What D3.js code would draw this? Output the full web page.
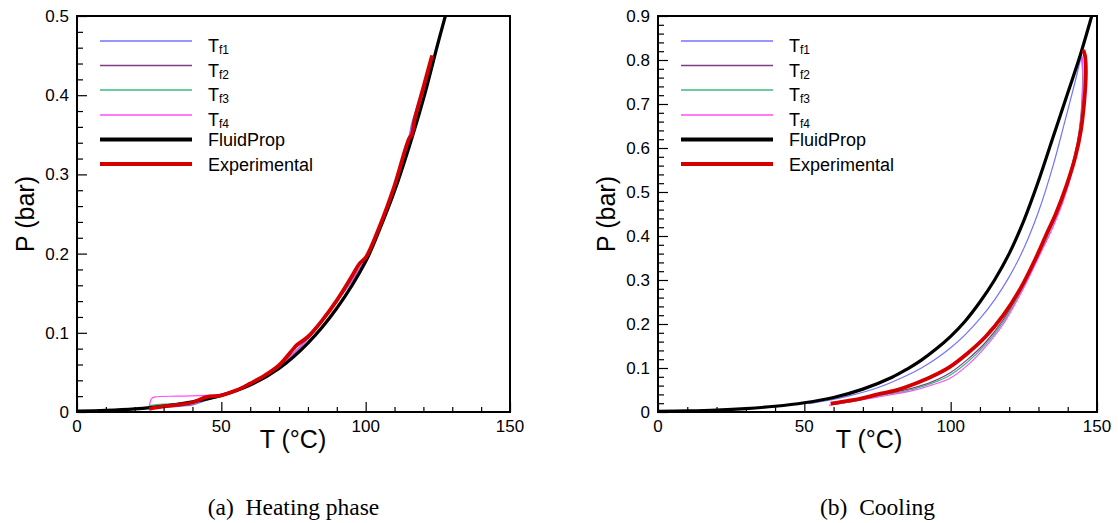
<!DOCTYPE html>
<html>
<head>
<meta charset="utf-8">
<script src="https://cdn.jsdelivr.net/npm/d3@7"></script>
<style>
  body { margin: 0; background: #fff; }
  text { font-family: "Liberation Sans", Arial, sans-serif; }
  .caption { font-family: "Liberation Serif", "DejaVu Serif", serif; white-space: pre; }
</style>
</head>
<body>
<div id="chart"></div>
<script>
// values, [T in °C, P in bar]
var heatFluidProp = [[0,0.001],[10,0.002],[20,0.004],[30,0.0075],[40,0.013],[50,0.021],[60,0.034],[70,0.055],[80,0.087],[90,0.131],[100,0.19],[105,0.232],[110,0.279],[115,0.334],[120,0.395],[125,0.465],[127.6,0.5]];
var heatExp = [[25,0.004],[30,0.007],[35,0.009],[40,0.012],[45,0.019],[50,0.021],[55,0.027],[60,0.036],[65,0.046],[70,0.059],[75,0.08],[76,0.084],[80,0.095],[85,0.116],[90,0.141],[95,0.17],[98,0.188],[100,0.195],[105,0.236],[110,0.286],[115,0.345],[116,0.35],[117,0.37],[120,0.41],[123,0.45]];
var heatTf1 = [[25,0.004],[30,0.006],[35,0.007],[40,0.009],[45,0.015],[50,0.02],[60,0.034],[70,0.057],[80,0.092],[90,0.139],[100,0.193],[110,0.284],[115,0.348],[116,0.365],[120,0.41],[123,0.45]];
var heatTf2 = [[25,0.005],[30,0.007],[35,0.008],[40,0.011],[45,0.017],[50,0.021],[60,0.035],[70,0.058],[80,0.093],[90,0.14],[100,0.194],[110,0.285],[115,0.346],[120,0.41],[123,0.45]];
var heatTf3 = [[25,0.008],[27,0.009],[30,0.01],[35,0.011],[40,0.013],[45,0.018],[50,0.021],[60,0.035],[70,0.058],[80,0.093],[90,0.14],[100,0.194],[110,0.285],[115,0.346],[120,0.41],[123,0.45]];
var heatTf4 = [[25,0.005],[25.3,0.012],[25.8,0.017],[27,0.019],[35,0.02],[45,0.021],[50,0.022],[55,0.027],[60,0.035],[70,0.058],[80,0.093],[90,0.14],[100,0.194],[110,0.285],[115,0.346],[120,0.41],[123,0.45]];

var coolFluidProp = [[0,0.0012],[10,0.0024],[20,0.0044],[30,0.0078],[40,0.013],[50,0.021],[60,0.033],[70,0.052],[80,0.079],[85,0.097],[90,0.118],[95,0.143],[100,0.172],[105,0.207],[110,0.25],[115,0.3],[120,0.36],[125,0.435],[130,0.525],[135,0.625],[140,0.725],[144,0.805],[148.2,0.9]];
var coolExp = [[59,0.019],[62.7,0.023],[68.9,0.03],[75,0.04],[81.2,0.049],[87.3,0.063],[93.4,0.08],[99.6,0.102],[105.7,0.133],[111.9,0.171],[118,0.22],[124.2,0.285],[129.1,0.35],[132.8,0.405],[135.9,0.45],[139.6,0.515],[142.6,0.58],[144.5,0.64],[145.7,0.71],[146.2,0.77],[145.9,0.81],[145.3,0.823]];
var coolTf1 = [[51.5,0.019],[57,0.025],[65,0.036],[75,0.055],[85,0.083],[90,0.1],[95,0.121],[100,0.146],[105,0.176],[110,0.212],[115,0.255],[120,0.307],[125,0.372],[130,0.455],[135,0.56],[139,0.66],[142.5,0.75],[144.3,0.8],[144.7,0.812]];
var coolTf2 = [[60,0.018],[68.9,0.028],[75,0.037],[87.3,0.055],[93.4,0.068],[99.6,0.088],[105.7,0.119],[111.9,0.158],[118,0.21],[124.2,0.28],[129,0.345],[133.4,0.41],[137.2,0.47],[140.6,0.54],[143.2,0.61],[144.6,0.68],[145.1,0.75],[144.9,0.8],[144.7,0.81]];
var coolTf3 = [[60,0.017],[68.9,0.027],[75,0.036],[87.3,0.052],[93.4,0.065],[99.6,0.083],[105.7,0.113],[111.9,0.153],[118,0.205],[124.2,0.276],[129.3,0.343],[133.8,0.41],[137.6,0.47],[140.9,0.54],[143.4,0.61],[144.7,0.68],[145.1,0.75],[144.9,0.8],[144.7,0.81]];
var coolTf4 = [[58.4,0.015],[68.9,0.027],[75,0.034],[87.3,0.049],[93.4,0.061],[99.6,0.076],[105.7,0.106],[111.9,0.148],[118,0.2],[124.2,0.272],[130.3,0.355],[134.6,0.415],[138.5,0.48],[141.6,0.55],[143.7,0.62],[144.9,0.69],[145.2,0.75],[145,0.8],[144.7,0.81]];

var xTicks = [0, 50, 100, 150];
var yTicksHeat = [0, 0.1, 0.2, 0.3, 0.4, 0.5];
var yTicksCool = [0, 0.1, 0.2, 0.3, 0.4, 0.5, 0.6, 0.7, 0.8, 0.9];
var seriesNames = ["Tf1", "Tf2", "Tf3", "Tf4", "FluidProp", "Experimental"];
var seriesColors = ["#7373ff", "#7f3f7f", "#3cba7c", "#ff4cff", "#000000", "#d40000"];
var seriesWidths = [1.2, 1.2, 1.2, 1.2, 3.2, 3.8];
var captions = ["(a)  Heating phase", "(b)  Cooling"];

var svg = d3.select("#chart").append("svg")
    .attr("width", 1118)
    .attr("height", 523);

function panel(left, right, yMax, yTicks, series, caption, titleX) {
    var top = 16, bottom = 412;
    var x = d3.scaleLinear().domain([0, 150]).range([left, right]);
    var y = d3.scaleLinear().domain([0, yMax]).range([bottom, top]);
    var g = svg.append("g");

    var clipId = "clip" + left;
    g.append("clipPath").attr("id", clipId).append("rect")
        .attr("x", left).attr("y", top).attr("width", right - left).attr("height", bottom - top);

    var line = d3.line().x(d => x(d[0])).y(d => y(d[1])).curve(d3.curveCatmullRom);
    var plot = g.append("g").attr("clip-path", `url(#${clipId})`);
    series.forEach(function (s, i) {
        plot.append("path")
            .datum(s)
            .attr("d", line)
            .attr("fill", "none")
            .attr("stroke", seriesColors[i])
            .attr("stroke-width", seriesWidths[i])
            .attr("stroke-linejoin", "round");
    });

    // bottom axis, inward ticks
    var xAxis = g.append("g").attr("transform", `translate(0,${bottom})`)
        .call(d3.axisBottom(x).tickValues(d3.range(0, 151, 10)).tickSize(-5).tickFormat(""));
    xAxis.selectAll(".tick line").filter(d => d % 50 === 0).attr("y2", -10);
    xAxis.selectAll(".tick line").attr("stroke-width", 1.2);
    xAxis.select(".domain").remove();
    g.selectAll(".xlab").data(xTicks).enter().append("text")
        .attr("x", d => x(d)).attr("y", bottom + 20)
        .attr("text-anchor", "middle").attr("font-size", 17).text(d => d);

    // left axis, inward ticks
    var minor = d3.range(0, Math.round(yMax / 0.02) + 1).map(i => i * 0.02);
    var yAxis = g.append("g").attr("transform", `translate(${left},0)`)
        .call(d3.axisLeft(y).tickValues(minor).tickSize(-6).tickFormat(""));
    yAxis.selectAll(".tick line").filter((d, i) => i % 5 === 0).attr("x2", 10);
    yAxis.selectAll(".tick line").attr("stroke-width", 1.2);
    yAxis.select(".domain").remove();
    g.selectAll(".ylab").data(yTicks).enter().append("text")
        .attr("x", left - 8).attr("y", d => y(d) + 6)
        .attr("text-anchor", "end").attr("font-size", 17).text(d => d);

    // frame
    g.append("rect")
        .attr("x", left).attr("y", top).attr("width", right - left).attr("height", bottom - top)
        .attr("fill", "none").attr("stroke", "#000").attr("stroke-width", 2);

    // legend
    var lg = g.append("g");
    var rowY = [41, 65.5, 90, 115, 139.5, 164];
    seriesNames.forEach(function (name, i) {
        lg.append("line")
            .attr("x1", left + 23).attr("x2", left + 115)
            .attr("y1", rowY[i]).attr("y2", rowY[i])
            .attr("stroke", seriesColors[i])
            .attr("stroke-width", i < 4 ? 1.3 : 4);
        var t = lg.append("text").attr("x", left + 131).attr("font-size", 18);
        if (i < 4) {
            t.attr("y", rowY[i] + 11);
            t.append("tspan").text("T");
            t.append("tspan").attr("font-size", 12).attr("dy", 2).text(name.slice(1));
        } else {
            t.attr("y", rowY[i] + 6.5).text(name);
        }
    });

    // axis titles
    g.append("text").attr("x", titleX).attr("y", 448)
        .attr("text-anchor", "middle").attr("font-size", 25).text("T (°C)");
    g.append("text")
        .attr("transform", `translate(${left - 43},${(top + bottom) / 2}) rotate(-90)`)
        .attr("text-anchor", "middle").attr("font-size", 25).text("P (bar)");

    g.append("text").attr("class", "caption")
        .attr("x", (left + right) / 2).attr("y", 515)
        .attr("text-anchor", "middle").attr("font-size", 23.5).text(caption);
}

panel(77, 510, 0.5, yTicksHeat,
    [heatTf1, heatTf2, heatTf3, heatTf4, heatFluidProp, heatExp], captions[0], 293);
panel(658, 1097, 0.9, yTicksCool,
    [coolTf1, coolTf2, coolTf3, coolTf4, coolFluidProp, coolExp], captions[1], 869);
</script>
</body>
</html>
